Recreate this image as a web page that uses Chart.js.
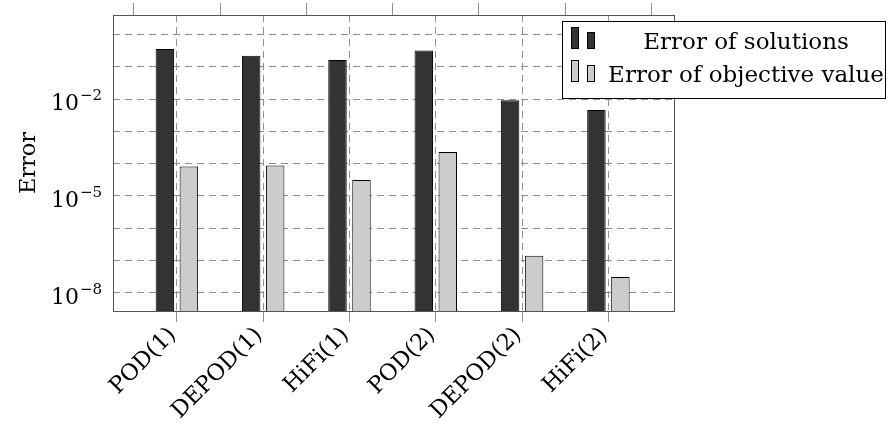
<!DOCTYPE html>
<html>
<head>
<meta charset="utf-8">
<script src="https://cdn.jsdelivr.net/npm/chart.js@4/dist/chart.umd.min.js"></script>
<style>
html,body{margin:0;padding:0;background:#fff;}
#wrap{width:888px;height:426px;}
</style>
</head>
<body>
<div id="wrap"><canvas id="c" width="888" height="426"></canvas></div>
<script>
const categories = ['POD(1)', 'DEPOD(1)', 'HiFi(1)', 'POD(2)', 'DEPOD(2)', 'HiFi(2)'];
const seriesNames = ['Error of solutions', 'Error of objective value'];
const errSolutions = [0.35, 0.22, 0.16, 0.32, 9.1e-3, 4.6e-3];
const errObjective = [8.1e-5, 8.7e-5, 3.1e-5, 2.3e-4, 1.4e-7, 3.1e-8];
const yDecades = [-8, -7, -6, -5, -4, -3, -2, -1, 0];
const yLabelledExponents = [-8, -5, -2];

const FONT = "'DejaVu Serif', 'Liberation Serif', serif";
const DARK = '#333333', LIGHT = '#cccccc';
const GRID = '#8f8f8f';

const frame = {
  id: 'frame',
  afterDatasetsDraw(chart) {
    const a = chart.chartArea, ctx = chart.ctx;
    ctx.save();
    ctx.strokeStyle = '#555';
    ctx.lineWidth = 1;
    ctx.setLineDash([]);
    ctx.strokeRect(Math.round(a.left) + 0.5, Math.round(a.top) + 0.5, Math.round(a.right - a.left), Math.round(a.bottom - a.top));
    ctx.restore();
  }
};

// y tick labels "10^e" drawn at the scale's own pixel positions
const powerLabels = {
  id: 'powerLabels',
  afterDraw(chart) {
    const s = chart.scales.y, ctx = chart.ctx;
    ctx.save();
    ctx.fillStyle = '#000';
    ctx.textBaseline = 'alphabetic';
    yLabelledExponents.forEach(e => {
      const py = s.getPixelForValue(Math.pow(10, e));
      const exp = '\u2212' + Math.abs(e);
      ctx.font = '15px ' + FONT;
      const ew = ctx.measureText(exp).width;
      const right = s.right - 11;
      ctx.textAlign = 'left';
      ctx.fillText(exp, right - ew, py + 1);
      ctx.font = '22px ' + FONT;
      ctx.textAlign = 'right';
      ctx.fillText('10', right - ew - 1, py + 11);
    });
    ctx.restore();
  }
};

const boxLegend = {
  id: 'boxLegend',
  afterDraw(chart) {
    const a = chart.chartArea, ctx = chart.ctx;
    const x0 = Math.round(a.right) - 112, y0 = Math.round(a.top) + 6;
    const w = 323, h = 77;
    ctx.save();
    ctx.fillStyle = '#fff';
    ctx.fillRect(x0, y0, w, h);
    ctx.strokeStyle = '#000';
    ctx.lineWidth = 1;
    ctx.strokeRect(x0 + 0.5, y0 + 0.5, w, h);
    const rows = [0, 33];
    chart.data.datasets.forEach((ds, i) => {
      const ry = y0 + rows[i];
      ctx.fillStyle = ds.backgroundColor;
      ctx.strokeStyle = '#000';
      ctx.fillRect(x0 + 9, ry + 6, 7, 21);
      ctx.strokeRect(x0 + 9.5, ry + 6.5, 7, 21);
      ctx.fillRect(x0 + 25, ry + 11, 7, 16);
      ctx.strokeRect(x0 + 25.5, ry + 11.5, 7, 16);
      ctx.fillStyle = '#000';
      ctx.font = '23px ' + FONT;
      ctx.textAlign = 'center';
      ctx.textBaseline = 'middle';
      ctx.fillText(ds.label, x0 + 184, ry + 22);
    });
    ctx.restore();
  }
};

new Chart(document.getElementById('c'), {
  type: 'bar',
  data: {
    datasets: [
      {
        label: seriesNames[0],
        data: errSolutions.map((v, i) => ({x: i, y: v})),
        backgroundColor: DARK,
        borderColor: '#000',
        borderWidth: 1,
        categoryPercentage: 0.556,
        barPercentage: 0.77
      },
      {
        label: seriesNames[1],
        data: errObjective.map((v, i) => ({x: i, y: v})),
        backgroundColor: LIGHT,
        borderColor: '#000',
        borderWidth: 1,
        categoryPercentage: 0.556,
        barPercentage: 0.77
      }
    ]
  },
  options: {
    responsive: false,
    animation: false,
    devicePixelRatio: 1,
    layout: {padding: {left: 0, right: 214, top: 0, bottom: 0}},
    plugins: {legend: {display: false}, tooltip: {enabled: false}},
    scales: {
      x: {
        type: 'linear',
        position: 'bottom',
        offset: false,
        min: -0.74,
        max: 5.76,
        afterBuildTicks: (s) => { s.ticks = categories.map((c, i) => ({value: i})); },
        afterFit: (s) => { s.height = 115; s.paddingLeft = 0; s.paddingRight = 0; },
        grid: {color: GRID, lineWidth: 1, tickLength: 11, offset: false, tickColor: GRID},
        border: {display: false, dash: [7, 5]},
        ticks: {
          autoSkip: false,
          minRotation: 45,
          maxRotation: 45,
          padding: 0,
          labelOffset: -4,
          color: '#000',
          font: {family: FONT, size: 22.5},
          callback: (v) => categories[v]
        }
      },
      xTop: {
        type: 'linear',
        position: 'top',
        offset: false,
        min: -0.74,
        max: 5.76,
        afterBuildTicks: (s) => { s.ticks = categories.map((c, i) => ({value: i})); },
        afterFit: (s) => { s.height = 15; s.paddingLeft = 0; s.paddingRight = 0; },
        grid: {color: GRID, lineWidth: 1, tickLength: 12, drawOnChartArea: false, tickColor: GRID},
        border: {display: false, dash: [7, 5]},
        ticks: {display: false}
      },
      y: {
        type: 'logarithmic',
        min: Math.pow(10, -8.56),
        max: Math.pow(10, 0.6),
        afterBuildTicks: (s) => { s.ticks = yDecades.map(e => ({value: Math.pow(10, e)})); },
        afterFit: (s) => { s.width = 113; s.paddingTop = 0; s.paddingBottom = 0; },
        grid: {color: GRID, lineWidth: 1, drawTicks: false},
        border: {display: false, dash: [7, 5]},
        ticks: {display: false},
        title: {
          display: true,
          text: 'Error',
          color: '#000',
          font: {family: FONT, size: 22.5},
          padding: {top: 16, bottom: 0}
        }
      }
    }
  },
  plugins: [frame, powerLabels, boxLegend]
});
</script>
</body>
</html>
